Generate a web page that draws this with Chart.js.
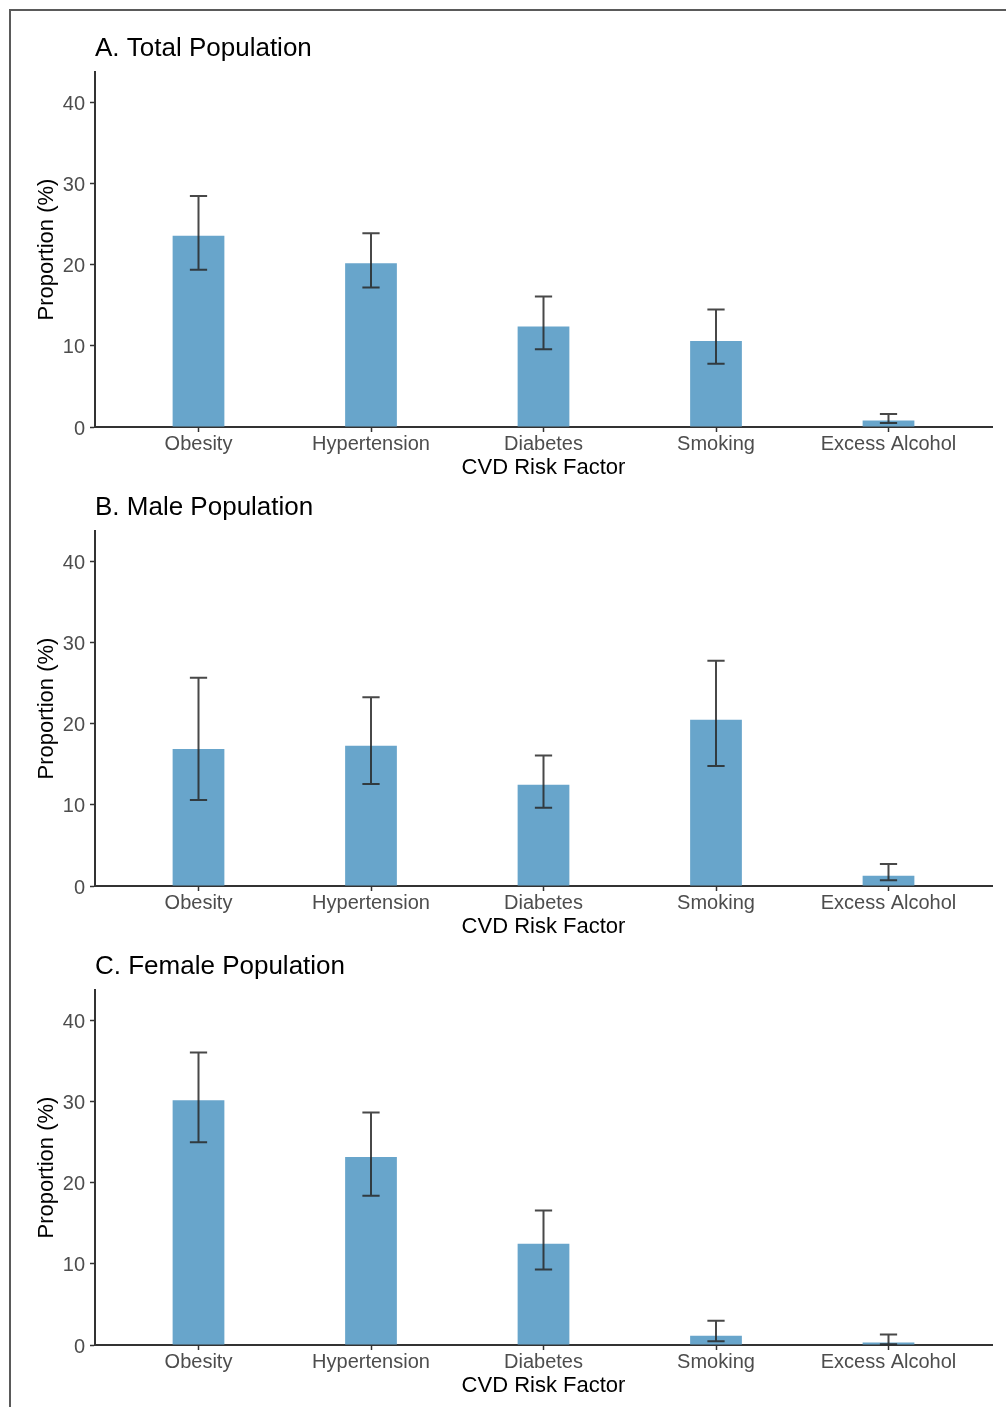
<!DOCTYPE html>
<html>
<head>
<meta charset="utf-8">
<script src="https://cdn.jsdelivr.net/npm/chart.js@4.4.1/dist/chart.umd.min.js"></script>
<style>
  html, body { margin: 0; padding: 0; background: #ffffff; }
  body { width: 1006px; height: 1407px; position: relative; overflow: hidden; }
  #frame { position: absolute; left: 9px; top: 9px; width: 1000px; height: 1400px;
           border-left: 2px solid #5a5a5a; border-top: 2px solid #5a5a5a; }
  .panel { position: absolute; left: 0; width: 1006px; height: 453px; }
</style>
</head>
<body>
<div id="frame"></div>
<div class="panel" style="top:28px"><canvas id="chartA" width="1006" height="453"></canvas></div>
<div class="panel" style="top:487px"><canvas id="chartB" width="1006" height="453"></canvas></div>
<div class="panel" style="top:946px"><canvas id="chartC" width="1006" height="453"></canvas></div>
<script>
// ---- Data ----
const categories = ['Obesity', 'Hypertension', 'Diabetes', 'Smoking', 'Excess Alcohol'];
const yTicks = [0, 10, 20, 30, 40];
const panelTitles = ['A. Total Population', 'B. Male Population', 'C. Female Population'];

const totalValues = [23.6, 20.2, 12.4, 10.6, 0.8];
const totalLower  = [19.4, 17.2, 9.6, 7.8, 0.5];
const totalUpper  = [28.5, 23.9, 16.1, 14.5, 1.6];

const maleValues = [16.9, 17.3, 12.5, 20.5, 1.25];
const maleLower  = [10.6, 12.6, 9.65, 14.8, 0.7];
const maleUpper  = [25.7, 23.3, 16.1, 27.8, 2.7];

const femaleValues = [30.2, 23.2, 12.5, 1.15, 0.3];
const femaleLower  = [25.0, 18.4, 9.3, 0.45, 0.1];
const femaleUpper  = [36.1, 28.7, 16.6, 3.0, 1.3];

const xAxisTitle = 'CVD Risk Factor';
const yAxisTitle = 'Proportion (%)';

// ---- Styling ----
const FONT = "'Liberation Sans', Arial, sans-serif";
const BAR_COLOR = '#68a5cb';
const AXIS_COLOR = '#333333';
const TICK_TEXT = '#4d4d4d';

function makeErrorBarPlugin(lower, upper) {
  return {
    id: 'errorBars',
    afterDatasetsDraw(chart) {
      const ctx = chart.ctx;
      const x = chart.scales.x, y = chart.scales.y;
      ctx.save();
      ctx.strokeStyle = 'rgba(40,40,40,0.85)';
      ctx.lineWidth = 2;
      lower.forEach((lo, i) => {
        const hi = upper[i];
        const cx = x.getPixelForValue(i);
        const half = (x.getPixelForValue(i + 0.05) - x.getPixelForValue(i - 0.05)) / 2;
        const yl = y.getPixelForValue(lo);
        const yh = y.getPixelForValue(hi);
        ctx.beginPath();
        ctx.moveTo(cx, yl); ctx.lineTo(cx, yh);
        ctx.moveTo(cx - half, yl); ctx.lineTo(cx + half, yl);
        ctx.moveTo(cx - half, yh); ctx.lineTo(cx + half, yh);
        ctx.stroke();
      });
      ctx.restore();
    }
  };
}

function makeChart(canvasId, title, values, lower, upper) {
  return new Chart(document.getElementById(canvasId), {
    type: 'bar',
    data: {
      datasets: [{
        data: values.map((v, i) => ({ x: i, y: v })),
        backgroundColor: BAR_COLOR,
        borderWidth: 0,
        categoryPercentage: 1,
        barPercentage: 0.3
      }]
    },
    options: {
      responsive: false,
      devicePixelRatio: 1,
      animation: false,
      events: [],
      layout: { padding: { left: 0, right: 14, top: 0, bottom: 0 } },
      plugins: {
        legend: { display: false },
        tooltip: { enabled: false },
        title: {
          display: true,
          text: title,
          align: 'start',
          fullSize: false,
          color: '#000000',
          font: { family: FONT, size: 26, weight: 'normal' },
          padding: { top: 5, bottom: 7.8 }
        }
      },
      scales: {
        x: {
          type: 'linear',
          min: -0.6,
          max: 4.6,
          offset: false,
          z: 1,
          afterBuildTicks: (scale) => { scale.ticks = categories.map((c, i) => ({ value: i })); },
          afterFit: (scale) => { scale.height = 54; },
          ticks: {
            autoSkip: false,
            maxRotation: 0,
            minRotation: 0,
            padding: 0,
            color: TICK_TEXT,
            font: { family: FONT, size: 20 },
            callback: (v) => categories[v]
          },
          grid: { display: true, drawOnChartArea: false, drawTicks: true, tickLength: 5,
                  tickColor: AXIS_COLOR, tickWidth: 1.5, offset: false },
          border: { display: true, color: AXIS_COLOR, width: 2 },
          title: {
            display: true,
            text: xAxisTitle,
            color: '#000000',
            font: { family: FONT, size: 22 },
            padding: { top: 0, bottom: 0 }
          }
        },
        y: {
          type: 'linear',
          min: 0,
          max: 43.8,
          z: 1,
          afterBuildTicks: (scale) => { scale.ticks = yTicks.map(v => ({ value: v })); },
          afterFit: (scale) => { scale.width = 95; },
          ticks: {
            padding: 5,
            labelOffset: 2,
            color: TICK_TEXT,
            font: { family: FONT, size: 20 },
            callback: (v) => String(v)
          },
          grid: { display: true, drawOnChartArea: false, drawTicks: true, tickLength: 5,
                  tickColor: AXIS_COLOR, tickWidth: 1.5 },
          border: { display: true, color: AXIS_COLOR, width: 2 },
          title: {
            display: true,
            text: yAxisTitle,
            color: '#000000',
            font: { family: FONT, size: 22 },
            padding: { top: 34, bottom: 0 }
          }
        }
      }
    },
    plugins: [makeErrorBarPlugin(lower, upper)]
  });
}

makeChart('chartA', panelTitles[0], totalValues, totalLower, totalUpper);
makeChart('chartB', panelTitles[1], maleValues, maleLower, maleUpper);
makeChart('chartC', panelTitles[2], femaleValues, femaleLower, femaleUpper);
</script>
</body>
</html>
